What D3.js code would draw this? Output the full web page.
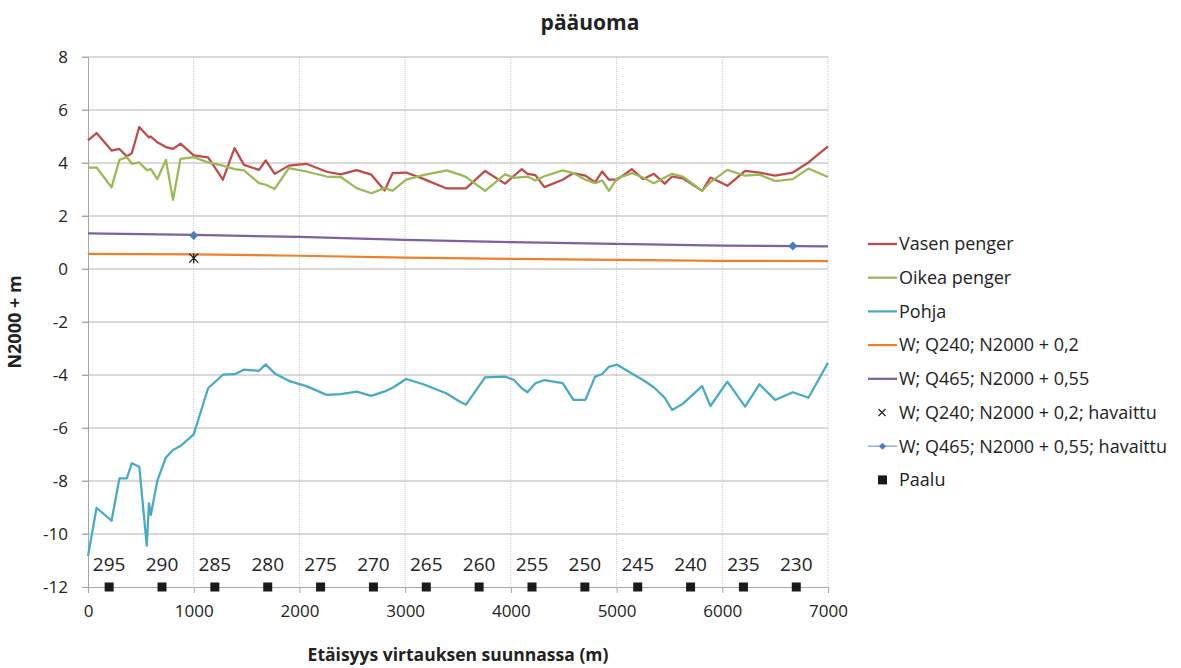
<!DOCTYPE html>
<html lang="fi">
<head>
    <meta charset="UTF-8">
    <title>pääuoma</title>
    <script src="https://d3js.org/d3.v7.min.js"></script>
    <style>
        body { margin: 0; background: #fff; }
        svg { display: block; font-family: "Open Sans", sans-serif; }
    </style>
</head>
<body>
<script>
    // mittauspisteet (m)
    var etaisyys = [0, 81, 223, 297, 367, 414, 485, 556, 577, 594, 656, 737, 804, 875, 1000, 1136,
        1276, 1386, 1475, 1618, 1681, 1766, 1900, 2065, 2258, 2390, 2541, 2680, 2806, 2882, 3010,
        3172, 3393, 3519, 3576, 3756, 3945, 4030, 4103, 4157, 4232, 4317, 4490, 4592, 4705, 4797,
        4864, 4928, 5005, 5144, 5250, 5352, 5456, 5525, 5626, 5809, 5888, 6048, 6216, 6351, 6500,
        6667, 6815, 7000]

    var vasenPenger = [4.85, 5.13, 4.47, 4.53, 4.25, 4.37, 5.36, 5.05, 4.96, 5.0, 4.78, 4.6, 4.53,
        4.73, 4.29, 4.21, 3.37, 4.56, 3.93, 3.74, 4.1, 3.59, 3.9, 3.97, 3.67, 3.57, 3.73, 3.56, 2.96,
        3.62, 3.64, 3.4, 3.04, 3.04, 3.04, 3.7, 3.22, 3.52, 3.77, 3.59, 3.54, 3.09, 3.37, 3.62, 3.52,
        3.28, 3.68, 3.37, 3.37, 3.77, 3.39, 3.59, 3.22, 3.49, 3.42, 2.95, 3.45, 3.14, 3.7, 3.64, 3.52,
        3.64, 4.02, 4.63]

    var oikeaPenger = [3.83, 3.83, 3.08, 4.12, 4.22, 3.97, 4.02, 3.73, 3.75, 3.77, 3.39, 4.12, 2.61,
        4.16, 4.22, 4.02, 3.9, 3.77, 3.72, 3.24, 3.18, 3.02, 3.81, 3.68, 3.49, 3.47, 3.05, 2.86, 3.05,
        2.96, 3.37, 3.54, 3.72, 3.56, 3.47, 2.95, 3.57, 3.44, 3.47, 3.49, 3.34, 3.5, 3.72, 3.62, 3.37,
        3.24, 3.34, 2.95, 3.42, 3.62, 3.45, 3.24, 3.45, 3.59, 3.49, 2.95, 3.28, 3.74, 3.52, 3.56, 3.32,
        3.39, 3.79, 3.47]

    var pohja = [-10.83, -9.01, -9.5, -7.9, -7.9, -7.33, -7.46, -10.44, -8.84, -9.28, -7.99, -7.11,
        -6.83, -6.68, -6.24, -4.5, -3.99, -3.97, -3.8, -3.84, -3.6, -3.94, -4.22, -4.42, -4.75, -4.72,
        -4.63, -4.79, -4.62, -4.48, -4.15, -4.35, -4.7, -5.01, -5.12, -4.09, -4.06, -4.19, -4.5, -4.65,
        -4.31, -4.19, -4.31, -4.94, -4.94, -4.06, -3.96, -3.69, -3.61, -3.94, -4.19, -4.46, -4.86,
        -5.32, -5.09, -4.42, -5.17, -4.25, -5.19, -4.35, -4.94, -4.65, -4.86, -3.54]

    // vedenpinnat
    var wEtaisyys = [0, 1000, 2000, 3000, 4000, 5000, 6000, 7000]
    var wQ240 = [0.57, 0.55, 0.5, 0.43, 0.38, 0.34, 0.31, 0.3]
    var wQ465 = [1.34, 1.29, 1.21, 1.1, 1.01, 0.95, 0.88, 0.85]

    // havaitut
    var havQ240x = [1000], havQ240y = [0.41]
    var havQ465x = [1000, 6667], havQ465y = [1.26, 0.87]

    // paalut
    var paaluX = [200, 700, 1200, 1700, 2200, 2700, 3200, 3700, 4200, 4700, 5200, 5700, 6200, 6700]
    var paaluNimi = ['295', '290', '285', '280', '275', '270', '265', '260', '255', '250', '245', '240', '235', '230']
    var paaluY = -12

    var xTicks = [0, 1000, 2000, 3000, 4000, 5000, 6000, 7000]
    var yTicks = [-12, -10, -8, -6, -4, -2, 0, 2, 4, 6, 8]

    var w = 1181, h = 668
    var padL = 88, padR = 828, padT = 57, padB = 587

    var svg = d3.select('body').append('svg')
        .attr('width', w)
        .attr('height', h)

    var xScale = d3.scaleLinear().domain([0, 7000]).range([padL, padR])
    var yScale = d3.scaleLinear().domain([-12, 8]).range([padB, padT])

    // gridlines
    svg.append('g').selectAll('line')
        .data(xTicks.slice(1))
        .enter().append('line')
        .attr('x1', d => xScale(d)).attr('x2', d => xScale(d))
        .attr('y1', padT).attr('y2', padB)
        .attr('stroke', '#c8c8c8').attr('stroke-dasharray', '1,1')

    svg.append('g').selectAll('line')
        .data(yTicks.slice(1))
        .enter().append('line')
        .attr('x1', padL - 6).attr('x2', padR)
        .attr('y1', d => yScale(d)).attr('y2', d => yScale(d))
        .attr('stroke', '#b4b4b4')

    // axes (hyphen minus like the original)
    var xAxis = d3.axisBottom(xScale).tickValues(xTicks).tickFormat(d => String(d))
        .tickSize(6).tickSizeOuter(0).tickPadding(12)
    var yAxis = d3.axisLeft(yScale).tickValues(yTicks).tickFormat(d => String(d))
        .tickSize(6).tickSizeOuter(0).tickPadding(14)

    svg.append('g')
        .attr('transform', 'translate(0,' + padB + ')')
        .call(xAxis)
    svg.append('g')
        .attr('transform', 'translate(' + padL + ',0)')
        .call(yAxis)

    svg.selectAll('.domain, .tick line').attr('stroke', '#a6a6a6')
    svg.selectAll('.tick text')
        .attr('fill', '#222')
        .style('font-size', '17px')
        .style('font-family', '"Open Sans", sans-serif')

    // lines
    function drawLine(xs, ys, color) {
        var pts = xs.map((d, i) => [d, ys[i]])
        var line = d3.line()
            .x(d => xScale(d[0]))
            .y(d => yScale(d[1]))
        svg.append('path')
            .datum(pts)
            .attr('d', line)
            .attr('fill', 'none')
            .attr('stroke', color)
            .attr('stroke-width', 2.25)
            .attr('stroke-linejoin', 'round')
    }

    var colors = {
        vasen: '#be4b48',
        oikea: '#98b954',
        pohja: '#46aac5',
        q240: '#f07f2c',
        q465: '#7d60a0',
        hav: '#4a7ebb'
    }

    drawLine(etaisyys, vasenPenger, colors.vasen)
    drawLine(etaisyys, oikeaPenger, colors.oikea)
    drawLine(etaisyys, pohja, colors.pohja)
    drawLine(wEtaisyys, wQ240, colors.q240)
    drawLine(wEtaisyys, wQ465, colors.q465)

    var starPath = 'M-4.5,-4.5L4.5,4.5M-4.5,4.5L4.5,-4.5M0,-5L0,5'
    var diamondPath = 'M0,-4.5L4.5,0L0,4.5L-4.5,0Z'

    havQ240x.forEach((d, i) => {
        svg.append('path')
            .attr('d', starPath)
            .attr('transform', 'translate(' + xScale(d) + ',' + yScale(havQ240y[i]) + ')')
            .attr('stroke', '#1a1a1a').attr('stroke-width', 1.3).attr('fill', 'none')
    })

    havQ465x.forEach((d, i) => {
        svg.append('path')
            .attr('d', diamondPath)
            .attr('transform', 'translate(' + xScale(d) + ',' + yScale(havQ465y[i]) + ')')
            .attr('fill', colors.hav)
    })

    // paalut
    svg.append('g').selectAll('rect')
        .data(paaluX)
        .enter().append('rect')
        .attr('x', d => xScale(d) - 4.5)
        .attr('y', yScale(paaluY) - 4.5)
        .attr('width', 9).attr('height', 9)
        .attr('fill', '#1a1a1a')

    svg.append('g').selectAll('text')
        .data(paaluX)
        .enter().append('text')
        .attr('x', d => xScale(d))
        .attr('y', yScale(paaluY) - 16)
        .attr('text-anchor', 'middle')
        .attr('fill', '#222')
        .style('font-size', '19px')
        .text((d, i) => paaluNimi[i])

    // titles
    svg.append('text')
        .attr('x', 590).attr('y', 30)
        .attr('text-anchor', 'middle')
        .attr('font-weight', 'bold')
        .attr('fill', '#222')
        .style('font-size', '21px')
        .text('pääuoma')

    svg.append('text')
        .attr('x', (padL + padR) / 2).attr('y', 661)
        .attr('text-anchor', 'middle')
        .attr('font-weight', 'bold')
        .attr('fill', '#222')
        .style('font-size', '17.5px')
        .text('Etäisyys virtauksen suunnassa (m)')

    svg.append('text')
        .attr('transform', 'translate(21,' + (padT + padB) / 2 + ') rotate(-90)')
        .attr('text-anchor', 'middle')
        .attr('font-weight', 'bold')
        .attr('fill', '#222')
        .style('font-size', '18px')
        .text('N2000 + m')

    // legend
    var legend = [
        { name: 'Vasen penger', type: 'line', color: colors.vasen },
        { name: 'Oikea penger', type: 'line', color: colors.oikea },
        { name: 'Pohja', type: 'line', color: colors.pohja },
        { name: 'W; Q240; N2000 + 0,2', type: 'line', color: colors.q240 },
        { name: 'W; Q465; N2000 + 0,55', type: 'line', color: colors.q465 },
        { name: 'W; Q240; N2000 + 0,2; havaittu', type: 'star', color: '#1a1a1a' },
        { name: 'W; Q465; N2000 + 0,55; havaittu', type: 'diamond', color: colors.hav },
        { name: 'Paalu', type: 'square', color: '#1a1a1a' }
    ]

    var lg = svg.append('g').attr('transform', 'translate(868,244)')
    legend.forEach((d, i) => {
        var g = lg.append('g').attr('transform', 'translate(0,' + (i * 33.7) + ')')
        if (d.type == 'line') {
            g.append('line').attr('x1', 0).attr('x2', 29).attr('y1', 0).attr('y2', 0)
                .attr('stroke', d.color).attr('stroke-width', 2.25)
        } else if (d.type == 'star') {
            g.append('path').attr('d', 'M-3.5,-3.5L3.5,3.5M-3.5,3.5L3.5,-3.5')
                .attr('transform', 'translate(14,0)')
                .attr('stroke', d.color).attr('stroke-width', 1.1).attr('fill', 'none')
        } else if (d.type == 'diamond') {
            g.append('line').attr('x1', 0).attr('x2', 29).attr('y1', 0).attr('y2', 0)
                .attr('stroke', '#8eaedb').attr('stroke-width', 1.5)
            g.append('path').attr('d', 'M0,-3.5L3.5,0L0,3.5L-3.5,0Z')
                .attr('transform', 'translate(14.5,0)')
                .attr('fill', d.color)
        } else {
            g.append('rect').attr('x', 10).attr('y', -4.5).attr('width', 9).attr('height', 9)
                .attr('fill', d.color)
        }
        g.append('text')
            .attr('x', 31).attr('y', 0)
            .attr('dy', '0.35em')
            .attr('fill', '#222')
            .style('font-size', '18px')
            .text(d.name)
    })
</script>
</body>
</html>
